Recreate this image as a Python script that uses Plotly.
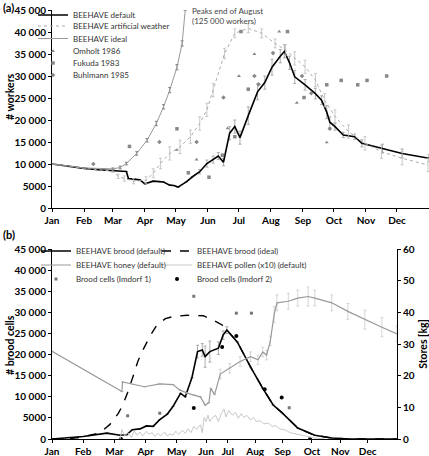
import plotly.graph_objects as go

# ---------------- Panel (a): workers ----------------
months = ["Jan", "Feb", "Mar", "Apr", "May", "Jun", "Jul", "Aug", "Sep", "Oct", "Nov", "Dec"]
month_days_a = [0, 31, 59, 90, 120, 151, 181, 212, 243, 273, 304, 334]
# panel (b) month tick positions as they appear in the reference axis
month_pos_b = [0, 33, 66, 99, 132, 163, 186, 215, 244, 275, 305, 334]

yticks_brood = [0, 5000, 10000, 15000, 20000, 25000, 30000, 35000, 40000, 45000]
yticks_text = ["0", "5000", "10 000", "15 000", "20 000", "25 000", "30 000", "35 000", "40 000", "45 000"]
kg_ticks = [0, 10, 20, 30, 40, 50, 60]

default_day = [0, 15, 31, 45, 59, 72, 74, 80, 85, 90, 98, 104, 108, 114, 118, 122, 130, 136, 143, 150,
               156, 161, 166, 172, 177, 182, 190, 199, 206, 213, 221, 225, 230, 235, 245, 255, 261, 266,
               269, 274, 282, 293, 300, 320, 339, 365]
default_val = [10000, 9500, 9000, 8700, 8500, 8300, 6700, 6600, 6400, 5500, 6100, 6000, 5900, 5200, 5100,
               4750, 5950, 7100, 8250, 10100, 11000, 11800, 10400, 17000, 18500, 16000, 21000, 26400,
               28500, 32000, 34500, 35600, 33000, 29800, 28000, 26000, 24500, 21800, 19500, 18500, 16600,
               16200, 14700, 13500, 12400, 11300]
default_err = [0, 0, 0, 0, 0, 0, 0, 0, 0, 0, 0, 0, 0, 0, 0, 0, 0, 0, 500, 800, 800, 800, 800, 1500, 1500,
               1500, 2000, 1800, 1500, 1800, 1500, 1500, 1500, 1500, 1200, 1200, 1000, 1500, 1200, 800,
               600, 600, 800, 1000, 1000, 800]

artif_day = [0, 31, 59, 64, 70, 79, 91, 98, 105, 114, 124, 134, 143, 150, 156, 167, 177, 190, 203, 216,
             226, 235, 245, 255, 264, 274, 287, 303, 319, 339, 364]
artif_val = [10000, 9000, 8400, 7200, 6700, 6100, 6300, 7900, 10100, 12400, 13900, 16200, 19200, 22300,
             26800, 35100, 39700, 40850, 39700, 37400, 35900, 34000, 32100, 29100, 24500, 20800, 17350,
             14700, 12800, 11300, 9770]
artif_err = [0, 0, 300, 500, 600, 600, 800, 1000, 1200, 1500, 1500, 1500, 1500, 1500, 1500, 1200, 1000,
             1000, 1000, 1000, 1200, 1500, 1500, 1500, 1500, 1500, 1500, 1500, 1500, 1500, 1500]

ideal_day = [0, 31, 59, 66, 72, 82, 92, 101, 108, 114, 121, 126, 129]
ideal_val = [10000, 9100, 8900, 9200, 10100, 12400, 15400, 19200, 23000, 26800, 32000, 37400, 45000]
ideal_err = [0, 0, 200, 300, 300, 400, 400, 500, 500, 600, 600, 600, 0]

omholt_day = [121, 140, 170, 181, 196, 220, 237, 266]
omholt_val = [13200, 11000, 18100, 30000, 35000, 40100, 23900, 14900]

fukuda_day = [75, 121, 132, 152, 165, 177, 183, 190, 228, 244, 266, 280, 296, 305, 324]
fukuda_val = [14000, 18000, 8000, 7000, 12000, 16200, 40100, 27000, 40100, 25100, 28000, 29000, 28000,
              29000, 30000]

buhl_day = [40, 104, 140, 166, 196, 200, 214, 242, 251, 269]
buhl_val = [10000, 15000, 15000, 25100, 30000, 28100, 35200, 30000, 26100, 18000]

# ---------------- Panel (b): brood and stores ----------------
brood_def_x = [0, 33, 58, 72, 79, 85, 93, 100, 107, 114, 122, 128, 136, 141, 148, 154, 159, 162, 167,
               176, 181, 185, 196, 210, 223, 234, 243, 260, 278, 296, 315, 365]
brood_def_v = [0, 600, 1400, 900, 1000, 2200, 2400, 3100, 3000, 4600, 5900, 7700, 10800, 10000, 14500,
               20700, 21100, 19500, 20700, 21500, 24600, 25800, 23000, 17100, 12000, 8050, 6300, 2600,
               870, 240, 0, 0]
brood_def_err = [0, 0, 0, 0, 0, 0, 0, 0, 0, 0, 0, 0, 0, 0, 0, 1500, 1500, 2500, 2500, 1500, 1000, 800,
                 0, 0, 0, 0, 0, 0, 0, 0, 0, 0]

brood_ideal_x = [0, 19, 33, 51, 61, 70, 75, 80, 86, 91, 96, 104, 111, 120, 128, 143, 160, 172, 180,
                 185, 196, 210, 223, 234, 243, 260, 278, 296, 315, 365]
brood_ideal_v = [0, 100, 500, 1500, 3400, 6000, 8100, 11000, 15000, 18500, 21000, 24500, 27000, 28500,
                 29000, 29300, 29200, 28000, 27000, 25800, 23000, 17100, 12000, 8050, 6300, 2600, 870,
                 240, 0, 0]

honey_x = [0, 74, 74.6, 86, 98, 114, 128, 135, 143, 151, 157, 162, 166, 168, 172, 178, 188, 199, 210,
           218, 223, 227, 231, 235, 238, 250, 260, 271, 278, 296, 313, 331, 349, 365]
honey_kg = [27.7, 15.0, 18.0, 17.2, 16.5, 17.4, 17.2, 15.5, 14.5, 13.8, 13.3, 10.7, 11.5, 16.0, 14.0,
            20.5, 22.3, 24.5, 26.0, 25.0, 27.5, 26.5, 31.0, 39.3, 43.0, 43.5, 44.5, 45.0, 44.5, 43.0,
            40.3, 37.7, 35.3, 33.2]
honey_err = [0, 0, 0, 0, 0, 0, 0, 0, 0, 0, 0, 0, 0, 0, 0, 1.5, 1.5, 1.5, 1.5, 1.5, 1.5, 1.5, 1.5, 2.5,
             2.5, 2.5, 2.5, 3.0, 2.5, 2.5, 2.5, 3.0, 3.0, 2.5]

pollen_x = [72, 74, 77, 80, 84, 87, 90, 93, 96, 100, 103, 106, 109, 112, 115, 119, 122, 125, 128, 131,
            134, 138, 141, 144, 147, 150, 153, 157, 159, 161, 163, 165, 167, 169, 173, 176, 179, 182,
            184, 187, 191, 194, 197, 200, 203, 206, 210, 213, 216, 220, 224, 229, 233, 237, 241, 247,
            252, 258, 265, 271, 278, 289]
pollen_kg = [0, 3.0, 1.0, 2.0, 0.5, 2.5, 1.2, 2.2, 1.0, 2.4, 1.5, 2.0, 0.8, 1.8, 1.0, 2.2, 0.9, 1.6,
             1.2, 2.5, 1.4, 2.8, 1.8, 3.2, 2.0, 4.0, 3.0, 4.5, 2.0, 6.8, 5.5, 7.5, 5.5, 6.5, 7.5, 5.5,
             8.0, 9.5, 7.0, 9.0, 7.5, 8.5, 6.5, 8.0, 6.8, 7.5, 6.0, 6.8, 5.5, 5.8, 4.8, 5.0, 4.0, 4.2,
             3.2, 2.8, 2.0, 1.6, 1.0, 0.6, 0.3, 0]

imdorf1_x = [80, 114, 150, 195, 211, 251]
imdorf1_v = [5500, 6100, 33800, 29800, 29800, 7400]

imdorf2_x = [73, 150, 180, 195, 225, 243, 273]
imdorf2_v = [0, 7350, 21800, 24400, 11800, 9800, 0]

FONT = "Lato"
W, H = 429, 456

fig = go.Figure()

# panel a traces
fig.add_trace(go.Scatter(x=default_day, y=default_val, mode="lines", name="BEEHAVE default",
                         line=dict(color="black", width=1.6),
                         error_y=dict(type="data", array=default_err, color="#999", thickness=0.8, width=1.5),
                         xaxis="x", yaxis="y", legend="legend"))
fig.add_trace(go.Scatter(x=artif_day, y=artif_val, mode="lines", name="BEEHAVE artificial weather",
                         line=dict(color="#aaa", width=1, dash="dot"),
                         error_y=dict(type="data", array=artif_err, color="#bbb", thickness=0.8, width=1.5),
                         xaxis="x", yaxis="y", legend="legend2"))
fig.add_trace(go.Scatter(x=ideal_day, y=ideal_val, mode="lines", name="BEEHAVE ideal",
                         line=dict(color="#999", width=1),
                         error_y=dict(type="data", array=ideal_err, color="#666", thickness=0.8, width=1.5),
                         xaxis="x", yaxis="y", legend="legend3"))
fig.add_trace(go.Scatter(x=omholt_day, y=omholt_val, mode="markers", name="Omholt 1986",
                         marker=dict(symbol="triangle-up", size=3.5, color="#888"),
                         xaxis="x", yaxis="y", legend="legend4"))
fig.add_trace(go.Scatter(x=fukuda_day, y=fukuda_val, mode="markers", name="Fukuda 1983",
                         marker=dict(symbol="square", size=3.5, color="#888"),
                         xaxis="x", yaxis="y", legend="legend5"))
fig.add_trace(go.Scatter(x=buhl_day, y=buhl_val, mode="markers", name="Buhlmann 1985",
                         marker=dict(symbol="diamond", size=3.5, color="#888"),
                         xaxis="x", yaxis="y", legend="legend6"))

# panel b traces
fig.add_trace(go.Scatter(x=pollen_x, y=pollen_kg, mode="lines", name="BEEHAVE pollen (x10) (default)",
                         line=dict(color="#c8c8c8", width=1),
                         xaxis="x2", yaxis="y3", legend="legend11"))
fig.add_trace(go.Scatter(x=honey_x, y=honey_kg, mode="lines", name="BEEHAVE honey (default)",
                         line=dict(color="#999", width=1.2),
                         error_y=dict(type="data", array=honey_err, color="#ccc", thickness=0.8, width=1.5),
                         xaxis="x2", yaxis="y3", legend="legend8"))
fig.add_trace(go.Scatter(x=brood_ideal_x, y=brood_ideal_v, mode="lines", name="BEEHAVE brood (ideal)",
                         line=dict(color="black", width=1.4, dash="dash"),
                         xaxis="x2", yaxis="y2", legend="legend10"))
fig.add_trace(go.Scatter(x=brood_def_x, y=brood_def_v, mode="lines", name="BEEHAVE brood (default)",
                         line=dict(color="black", width=1.6),
                         error_y=dict(type="data", array=brood_def_err, color="#999", thickness=0.8, width=1.5),
                         xaxis="x2", yaxis="y2", legend="legend7"))
fig.add_trace(go.Scatter(x=imdorf1_x, y=imdorf1_v, mode="markers", name="Brood cells (Imdorf 1)",
                         marker=dict(symbol="square", size=3, color="#777"),
                         xaxis="x2", yaxis="y2", legend="legend9"))
fig.add_trace(go.Scatter(x=imdorf2_x, y=imdorf2_v, mode="markers", name="Brood cells (Imdorf 2)",
                         marker=dict(symbol="circle", size=4, color="black"),
                         xaxis="x2", yaxis="y2", legend="legend12"))

ml, mt, mb = 52, 10, 17
plot_h = H - mt - mb
top_a, bot_a = 10, 208
top_b, bot_b = 249, 439
dom_a = [(H - mb - bot_a) / plot_h, 1.0]
dom_b = [0.0, (H - mb - top_b) / plot_h]
xb_end = (397 - ml) / (W - ml)

tickfont = dict(family=FONT, size=10, color="black", weight="bold")
titlefont = dict(family=FONT, size=10.5, color="black", weight="bold")
axis_common = dict(showline=True, linecolor="black", linewidth=1, ticks="outside", ticklen=3,
                   tickcolor="black", tickfont=tickfont, showgrid=False, zeroline=False)

legend_common = dict(xref="container", yref="container", xanchor="left", yanchor="middle",
                     bgcolor="rgba(0,0,0,0)", borderwidth=0, font=dict(family=FONT, size=8, color="#333"),
                     tracegroupgap=0, itemwidth=30)


def leg(text_left_px, center_px):
    d = dict(legend_common)
    d["x"] = (text_left_px - 40) / W
    d["y"] = 1 - center_px / H
    return d


def py(px):
    return (H - mb - px) / plot_h


def px_x(px):
    return (px - ml) / (W - ml)


layout = dict(
    width=W, height=H, margin=dict(l=ml, r=0, t=mt, b=mb, autoexpand=False),
    paper_bgcolor="white", plot_bgcolor="white",
    font=dict(family=FONT, color="black"),
    xaxis=dict(axis_common, domain=[0, 1], range=[0, 365], tickvals=month_days_a, ticktext=months,
               anchor="y"),
    yaxis=dict(axis_common, domain=dom_a, range=[0, 45000], tickvals=yticks_brood, ticktext=yticks_text,
               anchor="x"),
    xaxis2=dict(axis_common, domain=[0, xb_end], range=[0, 365], tickvals=month_pos_b, ticktext=months,
                anchor="y2"),
    yaxis2=dict(axis_common, domain=dom_b, range=[0, 45000], tickvals=yticks_brood, ticktext=yticks_text,
                anchor="x2"),
    yaxis3=dict(axis_common, range=[0, 60], tickvals=kg_ticks, overlaying="y2", side="right", anchor="x2",
                title=dict(text="Stores [kg]", font=titlefont)),
    showlegend=True,
    legend=leg(73, 15), legend2=leg(73, 26), legend3=leg(73, 38.5), legend4=leg(73, 51),
    legend5=leg(73, 63), legend6=leg(73, 75),
    legend7=leg(76, 251), legend8=leg(76, 265), legend9=leg(76, 279),
    legend10=leg(197, 251), legend11=leg(197, 265), legend12=leg(197, 279),
    annotations=[
        dict(text="(a)", xref="paper", yref="paper", x=px_x(1), y=py(7.5),
             xanchor="left", yanchor="middle", showarrow=False,
             font=dict(family=FONT, size=11, weight="bold", color="black")),
        dict(text="(b)", xref="paper", yref="paper", x=px_x(1), y=py(234),
             xanchor="left", yanchor="middle", showarrow=False,
             font=dict(family=FONT, size=11, weight="bold", color="black")),
        dict(text="# workers", xref="paper", yref="paper", x=px_x(10), y=py(97), textangle=-90,
             xanchor="center", yanchor="middle", showarrow=False, font=titlefont),
        dict(text="# brood cells", xref="paper", yref="paper", x=px_x(10), y=py(345), textangle=-90,
             xanchor="center", yanchor="middle", showarrow=False, font=titlefont),
        dict(text="Peaks end of August<br>(125 000 workers)", xref="paper", yref="paper",
             x=px_x(190), y=py(4), xanchor="left", yanchor="top", align="left",
             showarrow=False, font=dict(family=FONT, size=8, color="#444")),
    ],
)
fig.update_layout(**layout)
fig.write_html("out.html", config={"displayModeBar": False},
               post_script="document.body.style.margin='0';")
